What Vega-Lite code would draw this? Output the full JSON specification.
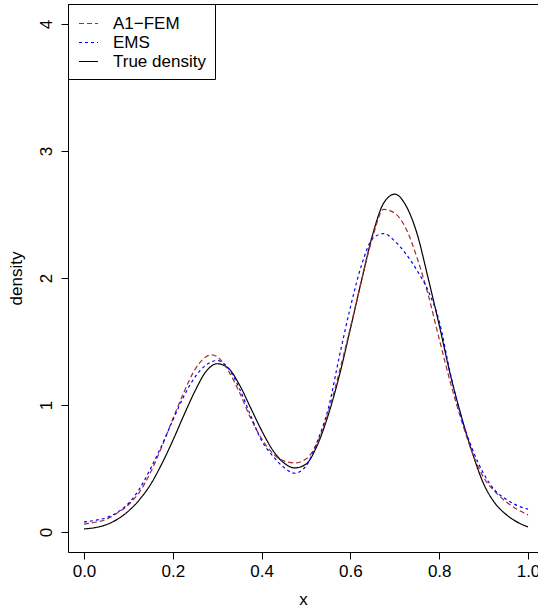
{
  "$schema": "https://vega.github.io/schema/vega-lite/v6.json",
  "autosize": {"type": "none"},
  "padding": {"left": 68, "top": 4, "right": 0, "bottom": 58},
  "width": 470,
  "height": 548,
  "background": "white",
  "config": {
    "view": {"stroke": null},
    "font": "Liberation Sans",
    "axis": {
      "grid": false,
      "domainColor": "black",
      "domainWidth": 1,
      "tickColor": "black",
      "tickSize": 7,
      "tickWidth": 1,
      "labelColor": "black",
      "labelFont": "Liberation Sans",
      "labelFontSize": 17,
      "titleFont": "Liberation Sans",
      "titleFontSize": 17,
      "titleFontWeight": "normal",
      "titleColor": "black"
    },
    "legend": {
      "orient": "none",
      "legendX": 0,
      "legendY": 0,
      "strokeColor": "black",
      "fillColor": "white",
      "padding": 9,
      "symbolType": "stroke",
      "symbolSize": 361,
      "symbolOffset": 1,
      "symbolStrokeWidth": 1.2,
      "labelFont": "Liberation Sans",
      "labelFontSize": 17,
      "labelColor": "black",
      "labelOffset": 14,
      "rowPadding": 0
    }
  },
  "data": {
    "values": [
      {"x": 0, "density": 0.025, "series": "True density"},
      {"x": 0.025, "density": 0.035, "series": "True density"},
      {"x": 0.05, "density": 0.058, "series": "True density"},
      {"x": 0.075, "density": 0.1, "series": "True density"},
      {"x": 0.1, "density": 0.165, "series": "True density"},
      {"x": 0.125, "density": 0.255, "series": "True density"},
      {"x": 0.15, "density": 0.375, "series": "True density"},
      {"x": 0.175, "density": 0.535, "series": "True density"},
      {"x": 0.2, "density": 0.72, "series": "True density"},
      {"x": 0.225, "density": 0.92, "series": "True density"},
      {"x": 0.25, "density": 1.11, "series": "True density"},
      {"x": 0.275, "density": 1.265, "series": "True density"},
      {"x": 0.3, "density": 1.325, "series": "True density"},
      {"x": 0.325, "density": 1.29, "series": "True density"},
      {"x": 0.35, "density": 1.16, "series": "True density"},
      {"x": 0.375, "density": 0.98, "series": "True density"},
      {"x": 0.4, "density": 0.8, "series": "True density"},
      {"x": 0.425, "density": 0.645, "series": "True density"},
      {"x": 0.45, "density": 0.545, "series": "True density"},
      {"x": 0.475, "density": 0.505, "series": "True density"},
      {"x": 0.5, "density": 0.535, "series": "True density"},
      {"x": 0.525, "density": 0.68, "series": "True density"},
      {"x": 0.55, "density": 0.92, "series": "True density"},
      {"x": 0.575, "density": 1.23, "series": "True density"},
      {"x": 0.6, "density": 1.6, "series": "True density"},
      {"x": 0.625, "density": 1.98, "series": "True density"},
      {"x": 0.65, "density": 2.34, "series": "True density"},
      {"x": 0.675, "density": 2.59, "series": "True density"},
      {"x": 0.7, "density": 2.66, "series": "True density"},
      {"x": 0.725, "density": 2.57, "series": "True density"},
      {"x": 0.75, "density": 2.35, "series": "True density"},
      {"x": 0.775, "density": 2.0, "series": "True density"},
      {"x": 0.8, "density": 1.63, "series": "True density"},
      {"x": 0.825, "density": 1.24, "series": "True density"},
      {"x": 0.85, "density": 0.91, "series": "True density"},
      {"x": 0.875, "density": 0.62, "series": "True density"},
      {"x": 0.9, "density": 0.38, "series": "True density"},
      {"x": 0.925, "density": 0.23, "series": "True density"},
      {"x": 0.95, "density": 0.14, "series": "True density"},
      {"x": 0.975, "density": 0.08, "series": "True density"},
      {"x": 1.0, "density": 0.04, "series": "True density"},

      {"x": 0, "density": 0.063, "series": "A1−FEM"},
      {"x": 0.025, "density": 0.077, "series": "A1−FEM"},
      {"x": 0.05, "density": 0.1, "series": "A1−FEM"},
      {"x": 0.075, "density": 0.15, "series": "A1−FEM"},
      {"x": 0.1, "density": 0.215, "series": "A1−FEM"},
      {"x": 0.125, "density": 0.315, "series": "A1−FEM"},
      {"x": 0.15, "density": 0.47, "series": "A1−FEM"},
      {"x": 0.175, "density": 0.67, "series": "A1−FEM"},
      {"x": 0.2, "density": 0.89, "series": "A1−FEM"},
      {"x": 0.225, "density": 1.1, "series": "A1−FEM"},
      {"x": 0.25, "density": 1.28, "series": "A1−FEM"},
      {"x": 0.275, "density": 1.38, "series": "A1−FEM"},
      {"x": 0.2875, "density": 1.395, "series": "A1−FEM"},
      {"x": 0.3, "density": 1.38, "series": "A1−FEM"},
      {"x": 0.325, "density": 1.27, "series": "A1−FEM"},
      {"x": 0.35, "density": 1.1, "series": "A1−FEM"},
      {"x": 0.375, "density": 0.9, "series": "A1−FEM"},
      {"x": 0.4, "density": 0.735, "series": "A1−FEM"},
      {"x": 0.425, "density": 0.62, "series": "A1−FEM"},
      {"x": 0.45, "density": 0.56, "series": "A1−FEM"},
      {"x": 0.475, "density": 0.545, "series": "A1−FEM"},
      {"x": 0.5, "density": 0.575, "series": "A1−FEM"},
      {"x": 0.525, "density": 0.7, "series": "A1−FEM"},
      {"x": 0.55, "density": 0.94, "series": "A1−FEM"},
      {"x": 0.575, "density": 1.26, "series": "A1−FEM"},
      {"x": 0.6, "density": 1.61, "series": "A1−FEM"},
      {"x": 0.625, "density": 1.98, "series": "A1−FEM"},
      {"x": 0.65, "density": 2.32, "series": "A1−FEM"},
      {"x": 0.675, "density": 2.54, "series": "A1−FEM"},
      {"x": 0.7, "density": 2.51, "series": "A1−FEM"},
      {"x": 0.725, "density": 2.39, "series": "A1−FEM"},
      {"x": 0.75, "density": 2.16, "series": "A1−FEM"},
      {"x": 0.775, "density": 1.87, "series": "A1−FEM"},
      {"x": 0.8, "density": 1.52, "series": "A1−FEM"},
      {"x": 0.825, "density": 1.18, "series": "A1−FEM"},
      {"x": 0.85, "density": 0.88, "series": "A1−FEM"},
      {"x": 0.875, "density": 0.62, "series": "A1−FEM"},
      {"x": 0.9, "density": 0.43, "series": "A1−FEM"},
      {"x": 0.925, "density": 0.32, "series": "A1−FEM"},
      {"x": 0.95, "density": 0.24, "series": "A1−FEM"},
      {"x": 0.975, "density": 0.18, "series": "A1−FEM"},
      {"x": 1.0, "density": 0.135, "series": "A1−FEM"},

      {"x": 0, "density": 0.08, "series": "EMS"},
      {"x": 0.025, "density": 0.092, "series": "EMS"},
      {"x": 0.05, "density": 0.113, "series": "EMS"},
      {"x": 0.075, "density": 0.155, "series": "EMS"},
      {"x": 0.1, "density": 0.225, "series": "EMS"},
      {"x": 0.125, "density": 0.34, "series": "EMS"},
      {"x": 0.15, "density": 0.5, "series": "EMS"},
      {"x": 0.175, "density": 0.68, "series": "EMS"},
      {"x": 0.2, "density": 0.88, "series": "EMS"},
      {"x": 0.225, "density": 1.07, "series": "EMS"},
      {"x": 0.25, "density": 1.22, "series": "EMS"},
      {"x": 0.275, "density": 1.315, "series": "EMS"},
      {"x": 0.3, "density": 1.35, "series": "EMS"},
      {"x": 0.325, "density": 1.29, "series": "EMS"},
      {"x": 0.35, "density": 1.13, "series": "EMS"},
      {"x": 0.375, "density": 0.92, "series": "EMS"},
      {"x": 0.4, "density": 0.72, "series": "EMS"},
      {"x": 0.425, "density": 0.6, "series": "EMS"},
      {"x": 0.45, "density": 0.51, "series": "EMS"},
      {"x": 0.475, "density": 0.463, "series": "EMS"},
      {"x": 0.5, "density": 0.52, "series": "EMS"},
      {"x": 0.525, "density": 0.71, "series": "EMS"},
      {"x": 0.55, "density": 0.97, "series": "EMS"},
      {"x": 0.575, "density": 1.38, "series": "EMS"},
      {"x": 0.6, "density": 1.77, "series": "EMS"},
      {"x": 0.625, "density": 2.1, "series": "EMS"},
      {"x": 0.65, "density": 2.31, "series": "EMS"},
      {"x": 0.675, "density": 2.35, "series": "EMS"},
      {"x": 0.7, "density": 2.29, "series": "EMS"},
      {"x": 0.725, "density": 2.19, "series": "EMS"},
      {"x": 0.75, "density": 2.06, "series": "EMS"},
      {"x": 0.775, "density": 1.9, "series": "EMS"},
      {"x": 0.8, "density": 1.66, "series": "EMS"},
      {"x": 0.825, "density": 1.25, "series": "EMS"},
      {"x": 0.85, "density": 0.9, "series": "EMS"},
      {"x": 0.875, "density": 0.65, "series": "EMS"},
      {"x": 0.9, "density": 0.46, "series": "EMS"},
      {"x": 0.925, "density": 0.33, "series": "EMS"},
      {"x": 0.95, "density": 0.26, "series": "EMS"},
      {"x": 0.975, "density": 0.21, "series": "EMS"},
      {"x": 1.0, "density": 0.18, "series": "EMS"}
    ]
  },
  "layer": [
    {
      "mark": {"type": "line", "strokeWidth": 1.2, "clip": true, "interpolate": "monotone"},
      "encoding": {
        "x": {
          "field": "x", "type": "quantitative",
          "scale": {"domain": [-0.036, 1.0225], "nice": false, "zero": false},
          "axis": {"orient": "bottom", "values": [0, 0.2, 0.4, 0.6, 0.8, 1.0], "format": ".1f", "title": "x", "labelPadding": 4, "titlePadding": 12, "labelFlush": false}
        },
        "y": {
          "field": "density", "type": "quantitative",
          "scale": {"domain": [-0.157, 4.157], "nice": false, "zero": false},
          "axis": {"values": [0, 1, 2, 3, 4], "format": "d", "title": "density", "labelAngle": 270, "labelAlign": "center", "labelBaseline": "bottom", "labelPadding": 6, "titlePadding": 12, "labelFlush": false}
        },
        "color": {
          "field": "series", "type": "nominal",
          "scale": {"domain": ["A1−FEM", "EMS", "True density"], "range": ["#A52A2A", "#0000FF", "#000000"]},
          "legend": {"title": null}
        },
        "strokeDash": {
          "field": "series", "type": "nominal",
          "scale": {"domain": ["A1−FEM", "EMS", "True density"], "range": [[5, 3], [3, 3], [1, 0]]},
          "legend": {"title": null}
        }
      }
    },
    {
      "mark": {"type": "line", "opacity": 0},
      "encoding": {
        "x": {
          "field": "x", "type": "quantitative",
          "axis": {"orient": "top", "labels": false, "ticks": false, "title": null, "domainColor": "black"}
        },
        "y": {"field": "density", "type": "quantitative"},
        "detail": {"field": "series"}
      }
    }
  ],
  "resolve": {"axis": {"x": "independent", "y": "shared"}}
}
